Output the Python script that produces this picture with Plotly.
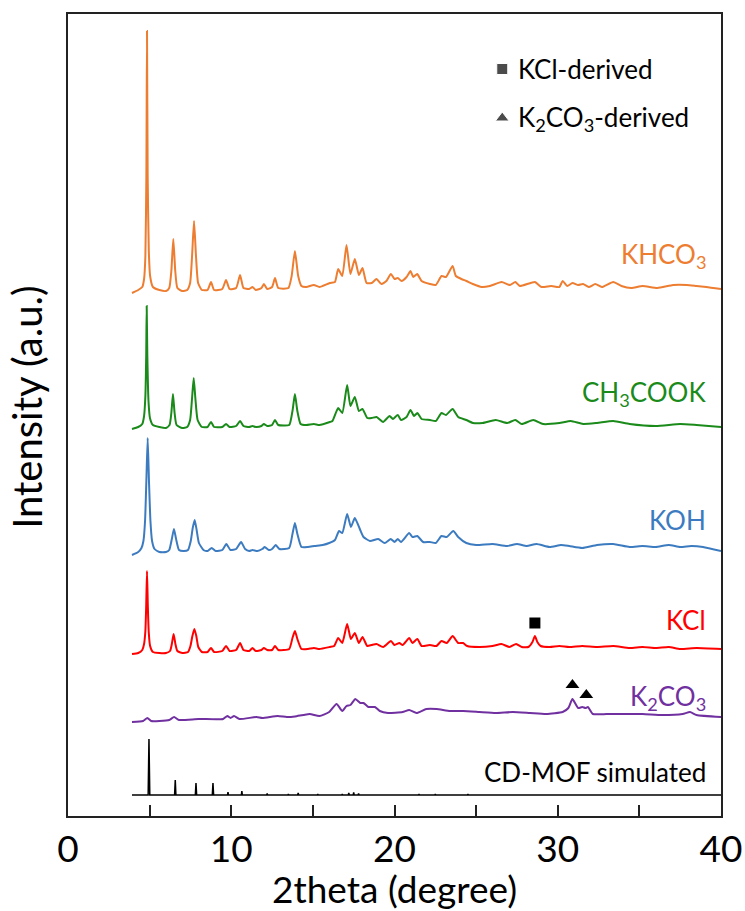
import plotly.graph_objects as go

# ---------------- data ----------------
# 2theta positions and stacked intensities (a.u., offsets included)
khco3_x = [3.92, 4.3, 4.55, 4.66, 4.74, 4.8, 4.84, 4.88, 4.95, 5.03, 5.2, 5.6, 6.0, 6.2, 6.33, 6.45, 6.57, 6.7,
           7.0, 7.3, 7.48, 7.6, 7.72, 7.84, 7.97, 8.2, 8.55, 8.76, 8.95, 9.45, 9.68, 9.9, 10.3, 10.54, 10.75,
           11.1, 11.3, 11.5, 11.85, 12.0, 12.2, 12.5, 12.68, 12.88, 13.5, 13.7, 13.9, 14.1, 14.3, 14.6, 15.06,
           15.4, 16.04, 16.35, 16.55, 16.8, 17.06, 17.3, 17.57, 17.82, 18.04, 18.29, 18.6, 18.9, 19.2, 19.5,
           19.78, 20.0, 20.2, 20.43, 20.74, 20.98, 21.15, 21.39, 21.66, 22.17, 22.53, 22.88, 23.15, 23.56,
           23.76, 24.1, 24.4, 24.8, 25.33, 25.84, 26.56, 27.07, 27.4, 27.68, 28.6, 29.0, 29.6, 30.1, 30.3,
           30.58, 30.9, 31.25, 31.55, 31.9, 32.3, 32.7, 33.4, 33.9, 34.5, 35.2, 36.1, 37.07, 37.9, 38.5,
           39.1, 40.0]
khco3_y = [523, 526, 529, 537, 560, 640, 785, 640, 565, 540, 529, 526, 525, 528, 545, 577, 545, 528,
           525, 526, 533, 560, 595, 560, 533, 526, 526, 534, 526, 527, 536, 527, 528, 541, 528,
           527, 529, 526, 528, 532, 527, 529, 538, 528, 528, 540, 565, 540, 530, 529, 531,
           529, 533, 534, 547, 540, 571, 542, 557, 541, 548, 533, 533, 537, 532, 535,
           542, 537, 538, 535, 539, 545, 539, 542, 535, 532, 531, 540, 539, 550,
           540, 537, 535, 532, 529, 530, 534, 531, 534, 530, 534, 529, 530, 529, 535,
           530, 533, 531, 532, 529, 532, 529, 534, 530, 528, 530, 528, 531, 531, 530,
           529, 527]

ch3cook_x = [3.92, 4.3, 4.55, 4.66, 4.74, 4.79, 4.82, 4.86, 4.93, 5.02, 5.2, 5.6, 6.0, 6.22, 6.33, 6.43, 6.53,
             6.65, 7.0, 7.3, 7.48, 7.6, 7.7, 7.8, 7.94, 8.2, 8.55, 8.76, 8.95, 9.45, 9.68, 9.9, 10.3, 10.54,
             10.75, 11.1, 11.3, 11.5, 11.85, 12.0, 12.2, 12.5, 12.68, 12.88, 13.55, 13.75, 13.9, 14.05, 14.25,
             14.6, 15.06, 15.4, 16.04, 16.2, 16.55, 16.8, 17.1, 17.3, 17.57, 17.82, 18.04, 18.33, 18.6, 18.9,
             19.3, 19.7, 19.9, 20.2, 20.4, 20.74, 20.98, 21.2, 21.4, 21.66, 22.17, 22.53, 22.88, 23.15, 23.56,
             23.9, 24.4, 24.8, 25.4, 26.2, 26.9, 27.4, 27.8, 28.5, 29.1, 30.1, 30.8, 31.55, 32.4, 33.4, 34.4,
             36.0, 37.5, 38.5, 40.0]
ch3cook_y = [387, 389, 392, 400, 420, 460, 510, 460, 415, 398, 391, 389, 388, 391, 403, 422, 403,
             391, 388, 389, 396, 418, 438, 418, 396, 389, 389, 394, 389, 389, 392, 389, 390, 395,
             390, 389, 390, 389, 390, 392, 390, 391, 396, 391, 391, 405, 422, 405, 392,
             391, 392, 391, 394, 395, 408, 403, 431, 410, 419, 405, 407, 398, 398, 399,
             394, 400, 397, 401, 396, 399, 406, 400, 403, 397, 396, 395, 403, 401, 407,
             399, 396, 393, 393, 396, 393, 396, 392, 396, 392, 393, 395, 392, 393, 395, 392,
             390, 392, 391, 389]

koh_x = [3.92, 4.3, 4.5, 4.62, 4.72, 4.8, 4.88, 4.96, 5.05, 5.15, 5.3, 5.6, 6.0, 6.2, 6.36, 6.49, 6.62, 6.8,
         7.1, 7.35, 7.52, 7.64, 7.76, 7.88, 8.02, 8.3, 8.55, 8.8, 9.05, 9.45, 9.7, 9.95, 10.3, 10.6, 10.85,
         11.1, 11.3, 11.6, 11.9, 12.05, 12.3, 12.5, 12.72, 12.95, 13.55, 13.75, 13.9, 14.05, 14.3, 14.7,
         15.1, 15.6, 16.0, 16.35, 16.6, 16.8, 17.1, 17.33, 17.57, 17.9, 18.1, 18.5, 19.0, 19.4, 19.77, 20.0,
         20.2, 20.4, 20.9, 21.1, 21.4, 21.75, 22.17, 22.53, 22.88, 23.2, 23.6, 23.9, 24.4, 25.0, 26.0, 26.9,
         27.5, 28.1, 28.7, 29.5, 30.2, 30.7, 31.5, 32.4, 33.4, 34.4, 35.2, 36.0, 36.8, 37.5, 38.2, 38.9, 40.0]
koh_y = [261, 264, 268, 275, 295, 335, 378, 335, 295, 275, 267, 264, 264, 266, 277, 287, 277, 266,
         265, 266, 275, 288, 296, 286, 273, 266, 265, 268, 265, 266, 272, 266, 267, 274, 267,
         265, 266, 265, 267, 269, 266, 267, 271, 267, 268, 282, 293, 282, 269, 269,
         270, 271, 273, 276, 285, 283, 302, 289, 298, 286, 279, 275, 277, 273, 277, 274,
         277, 274, 283, 279, 280, 274, 274, 273, 280, 279, 285, 279, 273, 271, 272, 270,
         272, 270, 272, 269, 271, 270, 268, 271, 272, 269, 270, 269, 271, 269, 270, 269, 265]

kcl_x = [3.92, 4.3, 4.55, 4.66, 4.74, 4.79, 4.84, 4.89, 4.95, 5.03, 5.2, 5.6, 6.0, 6.25, 6.36, 6.47, 6.58,
         6.7, 7.0, 7.35, 7.5, 7.62, 7.74, 7.86, 7.98, 8.2, 8.55, 8.76, 8.95, 9.45, 9.68, 9.9, 10.3, 10.54,
         10.75, 11.1, 11.3, 11.5, 11.85, 12.0, 12.2, 12.5, 12.68, 12.88, 13.55, 13.75, 13.9, 14.05, 14.3,
         14.7, 15.06, 15.4, 16.04, 16.3, 16.55, 16.8, 17.1, 17.33, 17.57, 17.82, 18.04, 18.33, 18.6, 18.9,
         19.3, 19.78, 20.0, 20.3, 20.5, 20.9, 21.1, 21.4, 21.66, 22.17, 22.57, 22.88, 23.2, 23.56, 23.9,
         24.2, 24.45, 25.2, 26.0, 26.55, 27.05, 27.45, 27.8, 28.2, 28.45, 28.6, 28.75, 28.95, 29.5, 30.1,
         30.7, 31.5, 32.4, 33.4, 34.4, 35.2, 36.0, 36.8, 37.5, 38.5, 40.0]
kcl_y = [162, 163, 166, 172, 185, 210, 245, 210, 183, 170, 164, 163, 163, 165, 172, 182, 172,
         165, 163, 164, 170, 180, 187, 180, 169, 164, 164, 168, 164, 165, 170, 165, 166, 173,
         166, 165, 168, 165, 166, 168, 166, 166, 170, 166, 167, 178, 185, 177, 167,
         167, 168, 167, 169, 170, 178, 173, 192, 177, 183, 173, 179, 170, 171, 172,
         169, 175, 171, 173, 171, 178, 173, 177, 170, 171, 170, 175, 173, 180, 173,
         173, 170, 169, 170, 172, 169, 172, 169, 169, 174, 180, 174, 170, 169, 170,
         169, 170, 169, 170, 168, 169, 168, 169, 167, 168, 167]

k2co3_x = [3.92, 4.6, 4.86, 5.1, 5.6, 6.2, 6.5, 6.8, 8.0, 9.5, 9.76, 9.96, 10.17, 10.5, 11.55, 11.9, 12.84,
           13.4, 13.9, 14.8, 15.4, 16.0, 16.45, 16.8, 17.06, 17.3, 17.6, 17.9, 18.1, 18.4, 18.8, 19.1, 19.6,
           20.5, 20.9, 21.35, 21.95, 22.57, 23.4, 24.2, 25.2, 26.2, 27.25, 28.3, 29.3, 30.3, 30.65, 30.9,
           31.25, 31.5, 31.7, 31.85, 32.15, 33.0, 34.0, 35.2, 36.4, 37.65, 38.1, 38.5, 40.0]
k2co3_y = [94, 95, 98, 95, 95, 96, 99, 96, 97, 97, 100, 98, 100, 97, 99, 98, 100,
           99, 99.5, 102, 100, 104, 112, 105, 110, 111, 117, 113, 113, 109, 109, 105, 103,
           104, 106, 103, 107, 107, 105, 105, 104, 103, 104, 103, 102, 104, 108, 117,
           108, 109, 108, 109, 102, 102, 102, 102, 101, 102, 104, 101, 99]

sim_x = [3.92, 4.91, 4.96, 5.01, 6.53, 6.57, 6.61, 7.8, 7.84, 7.88, 8.84, 8.88, 8.92, 9.77, 9.8, 9.83,
         10.62, 10.65, 10.68, 12.17, 12.2, 12.23, 13.47, 13.5, 13.53, 14.07, 14.1, 14.13, 15.27, 15.3, 15.33,
         16.77, 16.8, 16.83, 17.17, 17.2, 17.23, 17.47, 17.5, 17.53, 17.77, 17.8, 17.83, 21.47, 21.5, 21.53,
         22.47, 22.5, 22.53, 24.47, 24.5, 24.53, 40.0]
sim_y = [21, 21, 77, 21, 21, 36, 21, 21, 33, 21, 21, 33, 21, 21, 24, 21,
         21, 25, 21, 21, 22.5, 21, 21, 22, 21, 21, 23, 21, 21, 22, 21,
         21, 22, 21, 21, 23, 21, 21, 23.5, 21, 21, 22.5, 21, 21, 22, 21,
         21, 22, 21, 21, 22, 21, 21]

series_names = ["KHCO<sub>3</sub>", "CH<sub>3</sub>COOK", "KOH", "KCl", "K<sub>2</sub>CO<sub>3</sub>",
                "CD-MOF simulated"]
series_label_y = [561, 423, 296, 196, 119, 44]

kcl_mark_x = [28.6]
kcl_mark_y = [193]
k2co3_mark_x = [30.9, 31.75]
k2co3_mark_y = [131, 121]

legend_labels = ["KCl-derived", "K<sub>2</sub>CO<sub>3</sub>-derived"]
legend_y = [747, 698]

x_ticks = [0, 10, 20, 30, 40]

# ---------------- styling ----------------
colors = ["#ED7D31", "#1A8A1A", "#3C7BBF", "#FF0000", "#7030A0", "#000000"]
widths = [2, 2, 2, 2, 2, 1.5]
shapes_ = ["spline", "spline", "spline", "spline", "spline", "linear"]
FONT = "Lato"

fig = go.Figure()
series = [(khco3_x, khco3_y), (ch3cook_x, ch3cook_y), (koh_x, koh_y), (kcl_x, kcl_y),
          (k2co3_x, k2co3_y), (sim_x, sim_y)]
for (xs, ys), c, w, sh in zip(series, colors, widths, shapes_):
    line = dict(color=c, width=w, shape=sh)
    if sh == "spline":
        line["smoothing"] = 0.5
    fig.add_trace(go.Scatter(x=xs, y=ys, mode="lines", line=line,
                             showlegend=False, hoverinfo="skip"))

fig.add_trace(go.Scatter(x=kcl_mark_x, y=kcl_mark_y, mode="markers",
                         marker=dict(symbol="square", size=11, color="black"), showlegend=False))
fig.add_trace(go.Scatter(x=k2co3_mark_x, y=k2co3_mark_y, mode="markers",
                         marker=dict(symbol="triangle-up", size=12, color="black"), showlegend=False))
# legend markers
fig.add_trace(go.Scatter(x=[26.6, 26.6], y=legend_y, mode="markers",
                         marker=dict(symbol=["square", "triangle-up"], size=[11, 12], color="black"),
                         showlegend=False))

annotations = []
for name, yv, c in zip(series_names, series_label_y, colors):
    annotations.append(dict(x=39.2, y=yv, xref="x", yref="y", text=name, showarrow=False,
                            xanchor="right", yanchor="middle", font=dict(family=FONT, size=26, color=c)))
for lab, yv in zip(legend_labels, legend_y):
    annotations.append(dict(x=27.45, y=yv, xref="x", yref="y", text=lab, showarrow=False,
                            xanchor="left", yanchor="middle", font=dict(family=FONT, size=26, color="black")))
annotations.append(dict(x=0.5, y=-0.09, xref="paper", yref="paper", text="2theta (degree)", showarrow=False,
                        xanchor="center", yanchor="middle", font=dict(family=FONT, size=37, color="black")))
annotations.append(dict(x=-0.063, y=0.51, xref="paper", yref="paper", text="Intensity (a.u.)",
                        showarrow=False, textangle=-90, xanchor="center", yanchor="middle",
                        font=dict(family=FONT, size=40, color="black")))

fig.update_layout(
    width=745, height=911,
    margin=dict(l=68, r=24, t=14, b=95, autoexpand=False),
    paper_bgcolor="white", plot_bgcolor="white",
    annotations=annotations,
    xaxis=dict(range=[0, 40], tickvals=x_ticks, ticks="inside", ticklen=11, tickwidth=1.5,
               tickcolor="#222", showline=True, linecolor="#222", linewidth=2, mirror=True,
               showgrid=False, zeroline=False, automargin=False,
               tickfont=dict(family=FONT, size=37, color="black"),
               minor=dict(dtick=5, ticks="inside", ticklen=11, tickwidth=1.5, tickcolor="#222")),
    yaxis=dict(range=[0, 802], showticklabels=False, ticks="", showline=True, linecolor="#222",
               linewidth=2, mirror=True, showgrid=False, zeroline=False, automargin=False),
)

fig.write_html("out.html")
